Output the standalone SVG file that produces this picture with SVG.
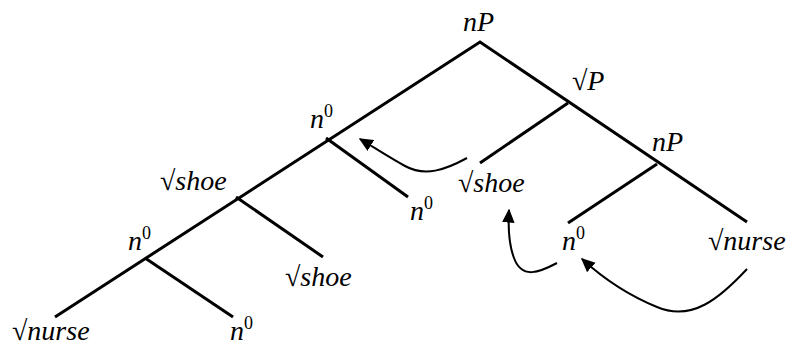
<svg xmlns="http://www.w3.org/2000/svg" width="788" height="345" viewBox="0 0 788 345">
<defs>
<marker id="ah2" viewBox="0 0 10 10" refX="9" refY="5" markerWidth="14" markerHeight="14" markerUnits="userSpaceOnUse" orient="auto">
<path d="M0,0.5 L10,5 L0,9.5 z" fill="#000"/>
</marker>
</defs>
<g id="connectors" stroke="#000" fill="none">
<g stroke-width="3">
<path d="M55,317 L480,42 L747,222"/>
<path d="M326,138 L408,197"/>
<path d="M236,197 L323,257"/>
<path d="M145,258 L233,317"/>
<path d="M568,103 L480,163"/>
<path d="M657,164 L568,223"/>
</g>
<g stroke-width="2">
<path marker-end="url(#ah2)" d="M467,158 C445,170 425,177 405,166 C390,158 375,148 360,139"/>
<path marker-end="url(#ah2)" d="M557,263 C540,272 522,280 514,258 C509,245 508,228 509,210"/>
<path marker-end="url(#ah2)" d="M747,269 C720,298 692,322 657,307 C630,296 605,280 582,259"/>
</g>
</g>
<g id="nP_top"><text x="463" y="31" style="font-family:serif;font-style:italic;font-size:28px">nP</text></g>
<g id="rootP"><text x="572" y="90" style="font-family:serif;font-style:italic;font-size:28px">√P</text></g>
<g id="nP_low"><text x="652" y="151" style="font-family:serif;font-style:italic;font-size:28px">nP</text></g>
<g id="n0_a"><text x="310" y="128" style="font-family:serif;font-style:italic;font-size:28px">n<tspan style="font-style:normal;font-size:18px" dy="-11">0</tspan></text></g>
<g id="shoe_a"><text x="160" y="190" style="font-family:serif;font-style:italic;font-size:28px">√shoe</text></g>
<g id="n0_b"><text x="128" y="250" style="font-family:serif;font-style:italic;font-size:28px">n<tspan style="font-style:normal;font-size:18px" dy="-11">0</tspan></text></g>
<g id="nurse_a"><text x="12" y="340" style="font-family:serif;font-style:italic;font-size:28px">√nurse</text></g>
<g id="n0_c"><text x="230" y="340" style="font-family:serif;font-style:italic;font-size:28px">n<tspan style="font-style:normal;font-size:18px" dy="-11">0</tspan></text></g>
<g id="shoe_b"><text x="285" y="286" style="font-family:serif;font-style:italic;font-size:28px">√shoe</text></g>
<g id="n0_d"><text x="410" y="220" style="font-family:serif;font-style:italic;font-size:28px">n<tspan style="font-style:normal;font-size:18px" dy="-11">0</tspan></text></g>
<g id="shoe_c"><text x="458" y="192" style="font-family:serif;font-style:italic;font-size:28px">√shoe</text></g>
<g id="n0_e"><text x="562" y="250" style="font-family:serif;font-style:italic;font-size:28px">n<tspan style="font-style:normal;font-size:18px" dy="-11">0</tspan></text></g>
<g id="nurse_b"><text x="708" y="250" style="font-family:serif;font-style:italic;font-size:28px">√nurse</text></g>
</svg>
